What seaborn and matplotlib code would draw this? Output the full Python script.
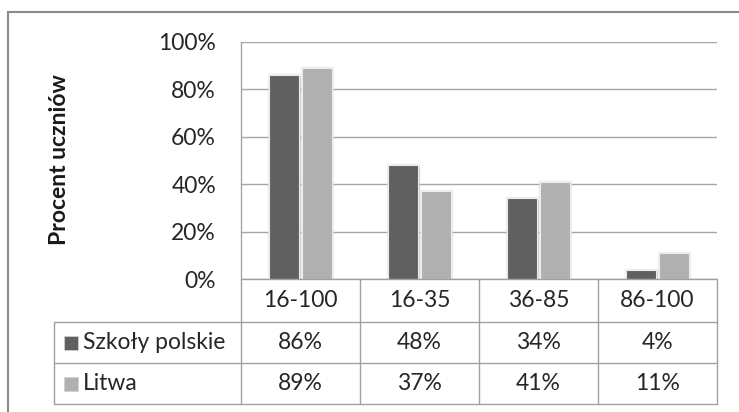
import numpy as np
import pandas as pd
import seaborn as sns
import matplotlib
matplotlib.use("Agg")
import matplotlib.pyplot as plt
from matplotlib.ticker import PercentFormatter
from matplotlib.lines import Line2D
from matplotlib.patches import Rectangle
import matplotlib.patheffects as pe
from matplotlib.transforms import blended_transform_factory

categories = ["16-100", "16-35", "36-85", "86-100"]
series_names = ["Szkoły polskie", "Litwa"]
polskie = [86, 48, 34, 4]
litwa = [89, 37, 41, 11]
yticks = [0, 20, 40, 60, 80, 100]
colors = ["#606060", "#b0b0b0"]

sns.set_theme(style="white")
plt.rcParams["font.family"] = ["Lato", "DejaVu Sans"]

W, H = 739, 412
fig = plt.figure(figsize=(W / 100, H / 100), dpi=100)


def fx(px):
    return px / W


def fy(py):
    return 1 - py / H


ax = fig.add_axes([fx(241), fy(279), fx(717) - fx(241), fy(42) - fy(279)])
df = pd.DataFrame({
    "cat": categories * 2,
    "series": [series_names[0]] * len(categories) + [series_names[1]] * len(categories),
    "val": polskie + litwa,
})
sns.barplot(data=df, x="cat", y="val", hue="series", hue_order=series_names,
            palette=colors, width=0.55, gap=0.08, saturation=1, ax=ax,
            legend=False, zorder=3, edgecolor="#ececec", linewidth=0.8)
for p in ax.patches:
    p.set_path_effects([pe.withStroke(linewidth=2.5, foreground="#e0e0e0", alpha=0.5),
                        pe.SimplePatchShadow(offset=(1.0, -1.0), shadow_rgbFace="#000000", alpha=0.12),
                        pe.Normal()])

ax.set_xlim(-0.5, len(categories) - 0.5)
ax.set_ylim(0, 100)
ax.set_yticks(yticks)
ax.yaxis.set_major_formatter(PercentFormatter(decimals=0))
ax.yaxis.grid(True, color="#a6a6a6", lw=1)
ax.set_axisbelow(True)
ax.set_xticks([])
ax.set_xlabel("")
ax.set_ylabel("")
for s in ["top", "right", "bottom"]:
    ax.spines[s].set_visible(False)
ax.spines["left"].set_color("#a6a6a6")
ax.spines["left"].set_linewidth(1)
tfs = 16.5
tc = "#262626"
ax.tick_params(axis="y", length=0, pad=18, labelsize=tfs, labelcolor=tc)

fig.text(fx(60), fy(160), "Procent uczniów", rotation=90, ha="center", va="center",
         fontsize=16.5, fontweight="bold", color="#1a1a1a")

# data table
lc = "#a0a0a0"
bt = blended_transform_factory(ax.transData, fig.transFigure)
rows = [279, 322, 363, 404]
n = len(categories)
for y in rows:
    fig.add_artist(Line2D([-0.5, n - 0.5], [fy(y), fy(y)], transform=bt, color=lc, lw=1))
for y in rows[1:]:
    fig.add_artist(Line2D([fx(54), fx(241)], [fy(y), fy(y)], transform=fig.transFigure, color=lc, lw=1))
for i in range(n + 1):
    fig.add_artist(Line2D([i - 0.5, i - 0.5], [fy(rows[0]), fy(rows[-1])], transform=bt, color=lc, lw=1))
fig.add_artist(Line2D([fx(54), fx(54)], [fy(rows[1]), fy(rows[-1])], transform=fig.transFigure, color=lc, lw=1))

for i, c in enumerate(categories):
    fig.text(i, fy((rows[0] + rows[1]) / 2), c, transform=bt, ha="center", va="center", fontsize=tfs, color=tc)
for r, (name, vals, col) in enumerate(zip(series_names, [polskie, litwa], colors)):
    yc = fy((rows[r + 1] + rows[r + 2]) / 2)
    for i, v in enumerate(vals):
        fig.text(i, yc, f"{v}%", transform=bt, ha="center", va="center", fontsize=tfs, color=tc)
    fig.add_artist(Rectangle((fx(64), yc - 7 / H), 14 / W, 14 / H, transform=fig.transFigure,
                             facecolor=col, edgecolor="#d0d0d0", lw=0.6))
    fig.text(fx(83), yc, name, ha="left", va="center", fontsize=tfs, color=tc)

# outer frame
fig.add_artist(Rectangle((fx(8), -0.2), 1.5, fy(12) + 0.2, transform=fig.transFigure,
                         fill=False, edgecolor="#8a8a8a", lw=1.5))

fig.savefig("out.png", dpi=100)
